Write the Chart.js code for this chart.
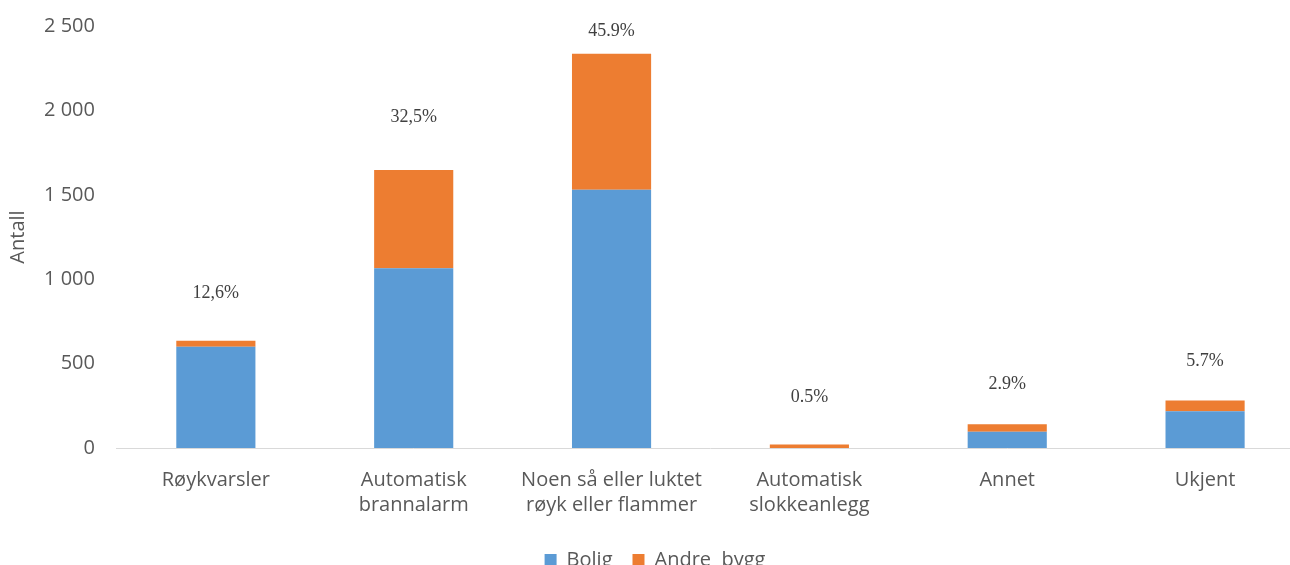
<!DOCTYPE html>
<html lang="no">
<head>
  <meta charset="UTF-8">
  <title>Antall</title>
  <script src="https://cdn.jsdelivr.net/npm/chart.js"></script>
  <style>
    html, body { margin: 0; padding: 0; background: #fff; overflow: hidden; }
    #wrap { width: 1304px; height: 565px; }
  </style>
</head>
<body>
  <div id="wrap"><canvas id="chart" width="1304" height="565"></canvas></div>

  <script>
    // categories and values
    const categories = [
      'Røykvarsler',
      ['Automatisk', 'brannalarm'],
      ['Noen så eller luktet', 'røyk eller flammer'],
      ['Automatisk', 'slokkeanlegg'],
      'Annet',
      'Ukjent'
    ];
    const bolig = [600, 1065, 1530, 0, 96, 218];
    const andreBygg = [35, 582, 806, 20, 45, 64];

    // percentage annotations and the value height they sit at
    const shareLabels = ['12,6%', '32,5%', '45.9%', '0.5%', '2.9%', '5.7%'];
    const shareLabelAt = [917, 1958, 2470, 300, 376, 512];

    const yTicks = [0, 500, 1000, 1500, 2000, 2500];

    const shareLabelPlugin = {
      id: 'shareLabels',
      afterDatasetsDraw(chart) {
        const { ctx, scales } = chart;
        ctx.save();
        ctx.font = '18px "Liberation Serif", "DejaVu Serif", serif';
        ctx.fillStyle = '#404040';
        ctx.textAlign = 'center';
        ctx.textBaseline = 'middle';
        shareLabels.forEach((txt, i) => {
          ctx.fillText(txt, scales.x.getPixelForValue(i), scales.y.getPixelForValue(shareLabelAt[i]));
        });
        ctx.restore();
      }
    };

    Chart.defaults.font.family = '"Open Sans", "Liberation Sans", sans-serif';
    Chart.defaults.color = '#595959';

    new Chart(document.getElementById('chart'), {
      type: 'bar',
      data: {
        labels: categories,
        datasets: [
          { label: 'Bolig', data: bolig, backgroundColor: '#5B9BD5' },
          { label: 'Andre  bygg', data: andreBygg, backgroundColor: '#ED7D31' }
        ]
      },
      options: {
        responsive: false,
        animation: false,
        layout: { padding: { top: 7, right: 0, left: 6, bottom: -15 } },
        datasets: { bar: { categoryPercentage: 1, barPercentage: 0.4 } },
        plugins: {
          legend: {
            position: 'bottom',
            labels: { boxWidth: 12, boxHeight: 12, font: { size: 20 }, padding: 20 }
          },
          tooltip: { enabled: false }
        },
        scales: {
          x: {
            stacked: true,
            grid: { display: false },
            border: { color: '#D9D9D9', width: 1 },
            ticks: { font: { size: 20, lineHeight: 1.25 }, padding: 12 }
          },
          y: {
            stacked: true,
            min: 0,
            max: 2500,
            afterBuildTicks: axis => { axis.ticks = yTicks.map(v => ({ value: v })); },
            grid: { display: false },
            border: { display: false },
            ticks: {
              font: { size: 20 },
              padding: 14,
              callback: v => String(v).replace(/\B(?=(\d{3})+(?!\d))/g, ' ')
            },
            title: { display: true, text: 'Antall', font: { size: 20 }, padding: 0 }
          }
        }
      },
      plugins: [shareLabelPlugin]
    });
  </script>
</body>
</html>
